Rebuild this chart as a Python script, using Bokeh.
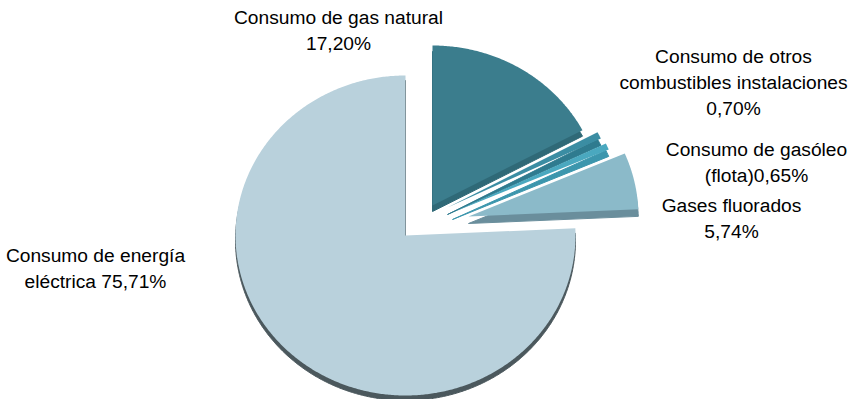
import numpy as np
from bokeh.plotting import figure
from bokeh.models import Range1d, ColumnDataSource
from bokeh.core.properties import value
from bokeh.embed import file_html
from bokeh.resources import INLINE

# ---- data ----
categories = ["Consumo de gas natural",
              "Consumo de otros combustibles instalaciones",
              "Consumo de gasóleo (flota)",
              "Gases fluorados",
              "Consumo de energía eléctrica"]
values = [17.20, 0.70, 0.65, 5.74, 75.71]
label_lines = [["Consumo de gas natural", "{p}"],
               ["Consumo de otros", "combustibles instalaciones", "{p}"],
               ["Consumo de gasóleo", "(flota){p}"],
               ["Gases fluorados", "{p}"],
               ["Consumo de energía", "eléctrica {p}"]]

# ---- styling / layout ----
top_colors = ["#3b7d8d", "#3b8da3", "#4aa8bf", "#8bbac9", "#b9d1dc"]
side_colors = ["#2f6977", "#2f7b8f", "#3c96ad", "#6a8e9c", "#4b585d"]
centers = [(440, 213), (455, 215), (460, 220), (476, 224), (413, 243)]
depths = [6, 7, 7, 7, 5]
RX, RY = 170, 160
label_pos = [(346, 25), (741, 63.5), (764, 157), (739, 213), (103, 262.5)]
LINE_H = 26
FONT = value("Liberation Sans")

W, H = 848, 399
p = figure(width=W, height=H, output_backend="svg", toolbar_location=None,
           x_range=Range1d(8, 8 + W), y_range=Range1d(8 + H, 8),
           min_border=0, outline_line_color=None)
p.axis.visible = False
p.grid.visible = False
p.background_fill_color = "white"
p.border_fill_color = "white"

total = sum(values)
cum = np.cumsum([0] + values)
for i, v in enumerate(values):
    a0 = 90 - 360 * cum[i] / total
    a1 = 90 - 360 * cum[i + 1] / total
    th = np.radians(np.linspace(a0, a1, max(4, int(abs(a1 - a0) * 2))))
    cx, cy = centers[i]
    xs = np.concatenate([[cx], cx + RX * np.cos(th), [cx]])
    ys = np.concatenate([[cy], cy - RY * np.sin(th), [cy]])
    d = depths[i]
    p.patch(xs, ys + d, fill_color=side_colors[i], line_color=side_colors[i], line_width=1)
    p.patch(xs, ys, fill_color=top_colors[i], line_color=None)

# ---- labels ----
tx, ty, tt = [], [], []
for i, v in enumerate(values):
    pct = f"{v:.2f}".replace(".", ",") + "%"
    x0, y0 = label_pos[i]
    for k, line in enumerate(label_lines[i]):
        tx.append(x0)
        ty.append(y0 + k * LINE_H)
        tt.append(line.format(p=pct))
src = ColumnDataSource(dict(x=tx, y=ty, text=tt))
p.text(x="x", y="y", text="text", source=src, text_font=FONT,
       text_font_size="19.2px", text_align="center", text_baseline="middle",
       text_color="#000000")

open("out.html", "w").write(file_html(p, INLINE))
